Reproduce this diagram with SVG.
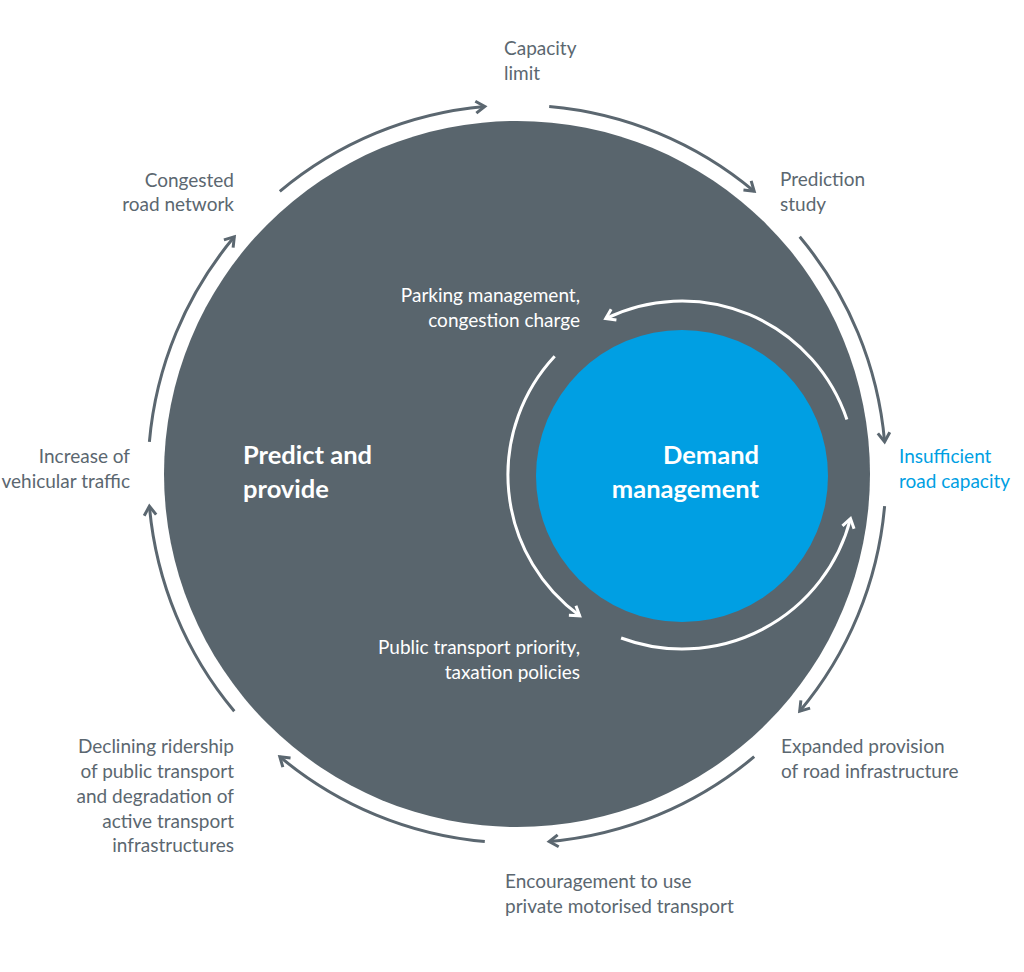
<svg xmlns="http://www.w3.org/2000/svg" width="1024" height="972" viewBox="0 0 1024 972">
<style>
.lbl{font-family:Lato,"Open Sans","Liberation Sans",sans-serif;font-size:19px;fill:#5b6770}
.blue{fill:#009fe3}
.wl{font-family:Lato,"Open Sans","Liberation Sans",sans-serif;font-size:19px;fill:#ffffff}
.big{font-family:Lato,"Open Sans","Liberation Sans",sans-serif;font-size:25.5px;font-weight:bold;fill:#ffffff}
.oa{fill:none;stroke:#5b6770;stroke-width:3;marker-end:url(#ag)}
.ia{fill:none;stroke:#ffffff;stroke-width:3;marker-end:url(#aw)}
</style>
<defs>
<marker id="ag" markerUnits="userSpaceOnUse" markerWidth="20" markerHeight="20" viewBox="-12 -10 14 20" refX="0" refY="0" orient="auto">
<path d="M-9,-6 L0,0 L-9,6" fill="none" stroke="#5b6770" stroke-width="3" stroke-linejoin="miter"/>
</marker>
<marker id="aw" markerUnits="userSpaceOnUse" markerWidth="20" markerHeight="20" viewBox="-12 -10 14 20" refX="0" refY="0" orient="auto">
<path d="M-9,-6 L0,0 L-9,6" fill="none" stroke="#ffffff" stroke-width="3" stroke-linejoin="miter"/>
</marker>
</defs>
<rect width="1024" height="972" fill="#ffffff"/>
<g id="predict-provide">
<circle cx="517" cy="474" r="353" fill="#59656d"/>
<text class="big" x="243" y="464">Predict and</text>
<text class="big" x="243" y="498">provide</text>
</g>
<g id="demand-management">
<circle cx="682" cy="476" r="146" fill="#009fe3"/>
<text class="big" text-anchor="end" x="759" y="464">Demand</text>
<text class="big" text-anchor="end" x="759" y="498">management</text>
</g>
<g id="connectors">
<path class="oa" d="M549.2,106.4 A369,369 0 0 1 754.2,191.3"/>
<path class="oa" d="M799.7,236.8 A369,369 0 0 1 884.6,441.8"/>
<path class="oa" d="M884.6,506.2 A369,369 0 0 1 799.7,711.2"/>
<path class="oa" d="M754.2,756.7 A369,369 0 0 1 549.2,841.6"/>
<path class="oa" d="M484.8,841.6 A369,369 0 0 1 279.8,756.7"/>
<path class="oa" d="M234.3,711.2 A369,369 0 0 1 149.4,506.2"/>
<path class="oa" d="M149.4,441.8 A369,369 0 0 1 234.3,236.8"/>
<path class="oa" d="M279.8,191.3 A369,369 0 0 1 484.8,106.4"/>
<path class="ia" d="M846.9,419.5 A174,174 0 0 0 605.7,318.6"/>
<path class="ia" d="M554.7,356.3 A174,174 0 0 0 579.7,615.8"/>
<path class="ia" d="M621.1,638.0 A174,174 0 0 0 850.5,518.6"/>
</g>
<g id="capacity-limit"><text class="lbl" x="504" y="55">Capacity</text><text class="lbl" x="504" y="80">limit</text></g>
<g id="prediction-study"><text class="lbl" x="780" y="186">Prediction</text><text class="lbl" x="780" y="211">study</text></g>
<g id="insufficient-road-capacity"><text class="lbl blue" x="899" y="463">Insufficient</text><text class="lbl blue" x="899" y="488">road capacity</text></g>
<g id="expanded-provision"><text class="lbl" x="781" y="753">Expanded provision</text><text class="lbl" x="781" y="778">of road infrastructure</text></g>
<g id="encouragement"><text class="lbl" x="505" y="888">Encouragement to use</text><text class="lbl" x="505" y="913">private motorised transport</text></g>
<g id="declining-ridership" text-anchor="end">
<text class="lbl" x="234" y="753">Declining ridership</text>
<text class="lbl" x="234" y="778">of public transport</text>
<text class="lbl" x="234" y="803">and degradation of</text>
<text class="lbl" x="234" y="828">active transport</text>
<text class="lbl" x="234" y="852">infrastructures</text>
</g>
<g id="increase-traffic" text-anchor="end"><text class="lbl" x="130" y="463">Increase of</text><text class="lbl" x="130" y="488">vehicular traffic</text></g>
<g id="congested-network" text-anchor="end"><text class="lbl" x="234" y="187">Congested</text><text class="lbl" x="234" y="211">road network</text></g>
<g id="parking-management" text-anchor="end"><text class="wl" x="580" y="302">Parking management,</text><text class="wl" x="580" y="327">congestion charge</text></g>
<g id="public-transport-priority" text-anchor="end"><text class="wl" x="580" y="654">Public transport priority,</text><text class="wl" x="580" y="679">taxation policies</text></g>
</svg>
